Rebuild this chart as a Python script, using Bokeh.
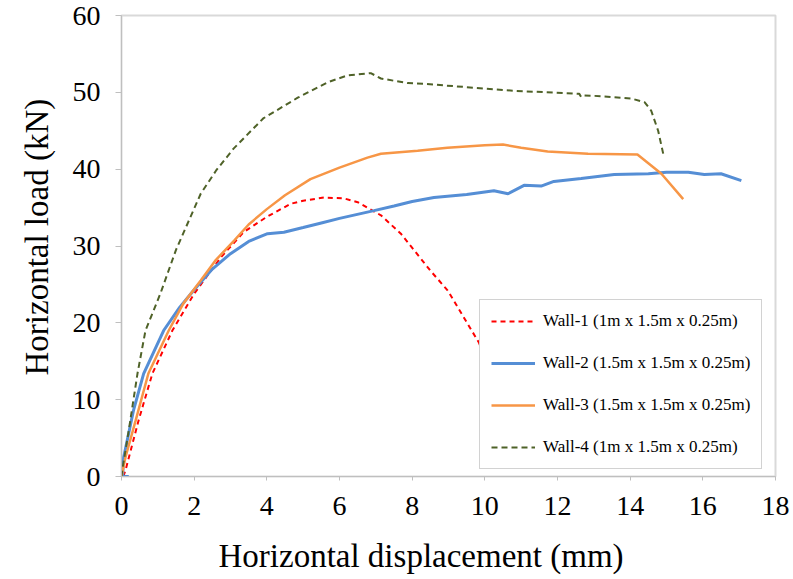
from bokeh.plotting import figure
from bokeh.models import Legend, LegendItem, FixedTicker, Range1d, Title
from bokeh.embed import file_html
from bokeh.resources import INLINE

# ---- data ----
wall1_x = [0.05, 0.11, 0.47, 0.85, 1.4, 2.0, 2.73, 3.36, 4.0, 4.66, 5.0, 5.57, 6.12, 6.5, 7.14, 7.69, 8.5, 8.98, 9.84, 10.3]
wall1_y = [0, 0.8, 7.3, 13.4, 19.0, 23.8, 28.5, 31.8, 33.8, 35.5, 35.9, 36.3, 36.2, 35.7, 34.0, 31.6, 26.8, 24.2, 17.4, 12.0]

wall2_x = [0.2, 0.03, 0.06, 0.33, 0.61, 1.16, 1.6, 2.0, 2.5, 3.0, 3.5, 4.02, 4.47, 5.0, 5.5, 6.0, 6.95, 7.5, 8.0, 8.6,
           9.5, 10.25, 10.64, 11.08, 11.55, 11.9, 12.65, 13.56, 14.5, 15.0, 15.6, 16.04, 16.5, 17.06]
wall2_y = [0, 0, 2.5, 8.6, 13.4, 19.0, 22.0, 24.3, 27.0, 29.0, 30.6, 31.6, 31.8, 32.4, 33.0, 33.6, 34.6, 35.2, 35.8, 36.3,
           36.7, 37.2, 36.8, 37.9, 37.8, 38.4, 38.8, 39.3, 39.4, 39.6, 39.6, 39.3, 39.4, 38.5]

wall3_x = [0, 0.11, 0.39, 0.74, 1.3, 1.7, 2.18, 2.6, 3.1, 3.5, 4.0, 4.5, 5.2, 6.0, 6.77, 7.14, 8.15, 8.97, 10.0, 10.5,
           11.0, 11.73, 12.84, 14.2, 14.86, 15.46]
wall3_y = [0, 2.5, 7.3, 13.4, 19.0, 22.5, 25.5, 28.2, 30.7, 32.8, 34.8, 36.6, 38.7, 40.2, 41.5, 42.0, 42.4, 42.8, 43.1, 43.2,
           42.8, 42.3, 42.0, 41.9, 39.4, 36.1]

wall4_x = [0, 0.02, 0.2, 0.44, 0.66, 1.07, 1.5, 2.18, 2.6, 3.09, 3.9, 4.85, 5.67, 6.22, 6.86, 7.14, 7.88, 8.33, 9.43, 10.8,
           12.18, 12.6, 12.65, 12.74, 13.2, 14.03, 14.4, 14.58, 14.77, 14.91]
wall4_y = [0, 0.8, 6.0, 13.4, 19.0, 23.8, 29.5, 36.8, 39.8, 42.7, 46.6, 49.3, 51.3, 52.2, 52.5, 51.8, 51.2, 51.1, 50.7, 50.2,
           49.9, 49.8, 49.4, 49.6, 49.5, 49.2, 48.7, 47.6, 45.0, 42.0]

labels = ["Wall-1 (1m x 1.5m x 0.25m)", "Wall-2 (1.5m x 1.5m x 0.25m)",
          "Wall-3 (1.5m x 1.5m x 0.25m)", "Wall-4 (1m x 1.5m x 0.25m)"]
x_ticks = [0, 2, 4, 6, 8, 10, 12, 14, 16, 18]
y_ticks = [0, 10, 20, 30, 40, 50, 60]
x_title = "Horizontal displacement (mm)"
y_title = "Horizontal load (kN)"

FONT = "Liberation Serif"

p = figure(width=790, height=579, output_backend="svg", toolbar_location=None,
           x_range=Range1d(0, 18), y_range=Range1d(0, 60),
           min_border_left=121, min_border_right=15, min_border_top=15, min_border_bottom=103)

p.xgrid.visible = False
p.ygrid.visible = False
p.outline_line_color = "#D9D9D9"
p.outline_line_width = 2

r1 = p.line(wall1_x, wall1_y, line_color="#FF0000", line_width=2, line_dash="5 4")
r2 = p.line(wall2_x, wall2_y, line_color="#558ED5", line_width=3)
r3 = p.line(wall3_x, wall3_y, line_color="#F79646", line_width=2.5)
r4 = p.line(wall4_x, wall4_y, line_color="#4F6228", line_width=2, line_dash="6 4")

for ax in (p.xaxis[0], p.yaxis[0]):
    ax.axis_line_color = "#BFBFBF"
    ax.axis_line_width = 1
    ax.major_tick_line_color = "#BFBFBF"
    ax.major_tick_in = 0
    ax.minor_tick_line_color = None
    ax.major_label_text_font = FONT
    ax.major_label_text_font_size = "28px"
    ax.major_label_text_color = "black"

p.xaxis[0].ticker = FixedTicker(ticks=x_ticks)
p.yaxis[0].ticker = FixedTicker(ticks=y_ticks)
p.xaxis[0].major_tick_out = 4
p.yaxis[0].major_tick_out = 6
p.xaxis[0].major_label_standoff = 16
p.yaxis[0].major_label_standoff = 15
# tiny blank axis label used only as vertical spacing before the x title
p.xaxis[0].axis_label = "\u00a0"
p.xaxis[0].axis_label_text_font_size = "1px"
p.xaxis[0].axis_label_standoff = 16

xt = Title(text=x_title, align="left", offset=97, text_font=FONT, text_font_size="33px",
           text_font_style="normal", text_color="black", standoff=0, vertical_align="top")
yt = Title(text=y_title, align="left", offset=101, text_font=FONT, text_font_size="33px",
           text_font_style="normal", text_color="black", standoff=30)
p.add_layout(xt, "below")
p.add_layout(yt, "left")

legend = Legend(items=[LegendItem(label=labels[0], renderers=[r1]),
                       LegendItem(label=labels[1], renderers=[r2]),
                       LegendItem(label=labels[2], renderers=[r3]),
                       LegendItem(label=labels[3], renderers=[r4])],
                location=(358, 7))
legend.label_text_font = FONT
legend.label_text_font_size = "17px"
legend.label_text_color = "black"
legend.border_line_color = "#A6A6A6"
legend.border_line_width = 1.5
legend.background_fill_color = "white"
legend.background_fill_alpha = 1
legend.glyph_width = 44
legend.glyph_height = 20
legend.label_height = 20
legend.label_standoff = 8
legend.spacing = 22
legend.padding = 11
legend.margin = 0
p.add_layout(legend, "center")

open("out.html", "w").write(file_html(p, INLINE))
